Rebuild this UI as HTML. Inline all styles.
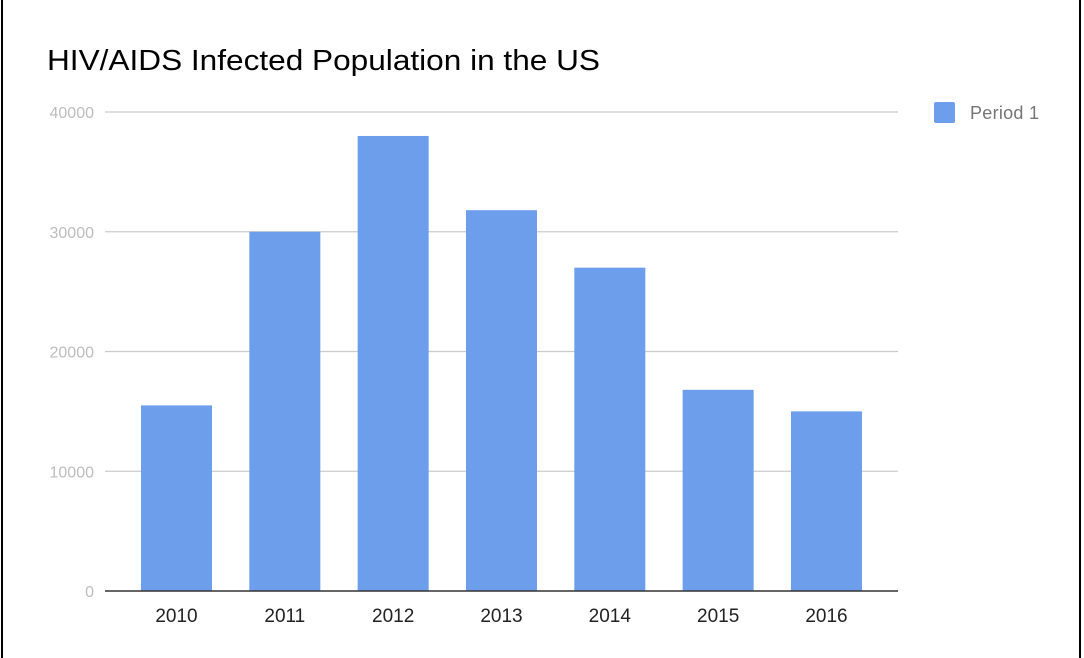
<!DOCTYPE html>
<html><head><meta charset="utf-8"><style>
body{margin:0;width:1084px;height:653px;background:#fff;overflow:hidden;font-family:"Liberation Sans",Arial,sans-serif}
#frame{position:absolute;left:1px;top:-2px;width:1080px;height:660px;border-left:2px solid #000;border-right:2px solid #000;box-sizing:border-box}
</style></head><body>
<div id="frame"></div>
<svg id="chart" width="1084" height="653" style="position:absolute;left:0;top:0">
<text x="47" y="70" font-size="29" textLength="553" lengthAdjust="spacingAndGlyphs" fill="#000">HIV/AIDS Infected Population in the US</text>
<rect x="934" y="102" width="21" height="21" rx="2" fill="#6d9eeb"/>
<text x="970" y="119" font-size="18" textLength="69" fill="#757575">Period 1</text>
<g id="grid"></g><g id="bars"></g><g id="xlabels"></g>
<line x1="105" x2="898" y1="591" y2="591" stroke="#333" stroke-width="1.5"/>
</svg>
<script>
const categories=["2010","2011","2012","2013","2014","2015","2016"];
const values=[15500,30000,38000,31800,27000,16800,15000];
const yTicks=[0,10000,20000,30000,40000];
const NS="http://www.w3.org/2000/svg";
const y0=591,yTop=112,yMax=40000;
function y(v){return y0-(v/yMax)*(y0-yTop);}
const step=108.33,firstC=176.5,bw=71;
function xc(i){return firstC+i*step;}
const grid=document.getElementById('grid');
yTicks.forEach(t=>{
 if(t>0){const l=document.createElementNS(NS,'line');
 l.setAttribute('x1',105);l.setAttribute('x2',898);l.setAttribute('y1',y(t));l.setAttribute('y2',y(t));
 l.setAttribute('stroke','#cccccc');l.setAttribute('stroke-width','1.3');
 
 
 grid.appendChild(l);}
 const tx=document.createElementNS(NS,'text');
 tx.setAttribute('x',94);tx.setAttribute('y',y(t)+6);tx.setAttribute('text-anchor','end');
 tx.setAttribute('font-size','16');tx.setAttribute('fill','#bdbdbd');tx.textContent=t;
 
 
 grid.appendChild(tx);
});
const bars=document.getElementById('bars'),xl=document.getElementById('xlabels');
values.forEach((v,i)=>{
 const r=document.createElementNS(NS,'rect');
 r.setAttribute('x',xc(i)-bw/2);r.setAttribute('y',y(v));r.setAttribute('width',bw);r.setAttribute('height',y0-y(v));
 r.setAttribute('fill','#6d9eeb');
 
 
 bars.appendChild(r);
 const t=document.createElementNS(NS,'text');
 t.setAttribute('x',xc(i));t.setAttribute('y',622);t.setAttribute('text-anchor','middle');
 t.setAttribute('font-size','19');t.setAttribute('fill','#222');t.textContent=categories[i];
 
 
 xl.appendChild(t);
});
</script>
</body></html>
